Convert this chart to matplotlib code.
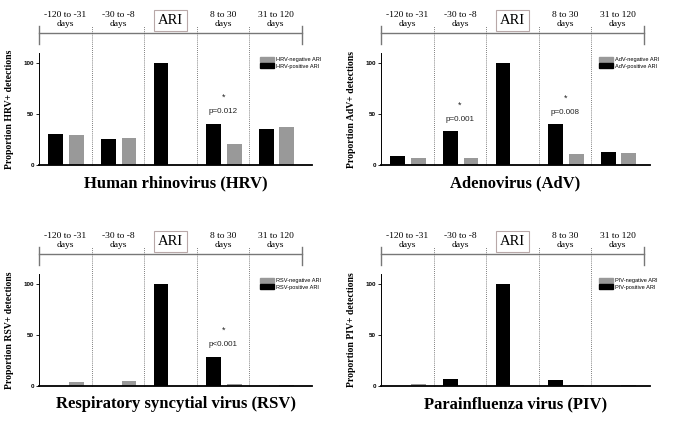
import numpy as np
import matplotlib.pyplot as plt
from matplotlib.patches import Patch
import matplotlib.transforms as mtransforms

# periods relative to the ARI
periods = ['-120 to -31\ndays', '-30 to -8\ndays', 'ARI', '8 to 30\ndays', '31 to 120\ndays']

viruses = ['HRV', 'AdV', 'RSV', 'PIV']
titles = ['Human rhinovirus (HRV)', 'Adenovirus (AdV)',
          'Respiratory syncytial virus (RSV)', 'Parainfluenza virus (PIV)']

# proportion (%) of detections; nan = no bar
hrv_pos = [30, 26, 100, 40.5, 35]
hrv_neg = [29, 27, np.nan, 21, 37]
adv_pos = [9, 33, 100, 40, 13]
adv_neg = [6.5, 6.5, np.nan, 11, 11.5]
rsv_pos = [0, 0, 100, 28.5, 0]
rsv_neg = [4, 4.5, np.nan, 2, 1]
piv_pos = [0, 7, 100, 6, 0]
piv_neg = [1.5, 0, np.nan, 1.2, 0.8]

pos_vals = [hrv_pos, adv_pos, rsv_pos, piv_pos]
neg_vals = [hrv_neg, adv_neg, rsv_neg, piv_neg]

# significance labels: (period index, text)
pvals = [[(3, 'p=0.012')], [(1, 'p=0.001'), (3, 'p=0.008')], [(3, 'p<0.001')], []]

plt.rcParams['font.family'] = 'Liberation Serif'

fig = plt.figure(figsize=(6.76, 4.25), dpi=100)
W, H = 676, 425
boxes = [(39, 53, 273, 112), (381, 53, 269, 112),
         (39, 274, 273, 112), (381, 274, 269, 112)]

gray = '#999999'
for k in range(4):
    x0, y0, w, h = boxes[k]
    ax = fig.add_axes([x0 / W, 1 - (y0 + h) / H, w / W, h / H])
    idx = np.arange(5)
    pos = np.array(pos_vals[k], dtype=float)
    neg = np.array(neg_vals[k], dtype=float)
    ax.bar(idx + 0.32, pos, width=0.28, color='black')
    ax.bar(idx + 0.71, neg, width=0.28, color=gray)
    ax.set_xlim(0, w / 52.6)
    ax.set_ylim(0, 110)
    ax.set_yticks([0, 50, 100])
    ax.set_yticklabels(['0', '50', '100'], fontfamily='Liberation Sans',
                       fontweight='bold', fontsize=4.5)
    ax.tick_params(axis='y', length=2.5, width=0.6, pad=1)
    ax.set_xticks([])
    for s in ['top', 'right']:
        ax.spines[s].set_visible(False)
    ax.spines['left'].set_linewidth(0.7)
    ax.spines['bottom'].set_linewidth(1.3)
    ax.set_ylabel('Proportion %s+ detections' % viruses[k], fontsize=7,
                  fontweight='bold', labelpad=7)

    trans = mtransforms.blended_transform_factory(ax.transData, ax.transAxes)
    # timeline
    ax.plot([0, 5], [1.18, 1.18], color='#777777', lw=1.0, transform=trans, clip_on=False)
    for xe in [0, 5]:
        ax.plot([xe, xe], [1.08, 1.24], color='#777777', lw=1.0, transform=trans, clip_on=False)
    for xd in [1, 2, 3, 4]:
        ax.plot([xd, xd], [0, 1.24], color='#555555', lw=0.6, ls=(0, (1, 1.5)),
                transform=trans, clip_on=False)
    for i, lab in enumerate(periods):
        if lab == 'ARI':
            ax.text(i + 0.5, 1.29, lab, ha='center', va='center', fontsize=10.5,
                    transform=trans,
                    bbox=dict(boxstyle='square,pad=0.3', fc='white', ec='#b8a8a8', lw=0.8))
        else:
            ax.text(i + 0.5, 1.30, lab, ha='center', va='center', fontsize=6.8,
                    linespacing=1.1, transform=trans)

    for i, txt in pvals[k]:
        top = pos[i]
        ax.text(i + 0.5, top + 12, txt, ha='center', va='center', fontsize=5.8,
                fontfamily='Liberation Sans', color='#222222')
        ax.text(i + 0.5, top + 26, '*', ha='center', va='center', fontsize=6.5,
                fontfamily='Liberation Sans', color='#222222')

    handles = [Patch(color=gray), Patch(color='black')]
    ax.legend(handles, [viruses[k] + '-negative ARI', viruses[k] + '-positive ARI'],
              loc='upper left', bbox_to_anchor=(0.80, 0.99), frameon=False,
              prop={'family': 'Liberation Sans', 'size': 4.1},
              handlelength=2.4, handleheight=1.0, handletextpad=0.4,
              labelspacing=0.15, borderpad=0)

    ax.text(0.5, -0.165, titles[k], transform=ax.transAxes, ha='center', va='center',
            fontsize=12, fontweight='bold')

fig.savefig('out.png', dpi=100)
